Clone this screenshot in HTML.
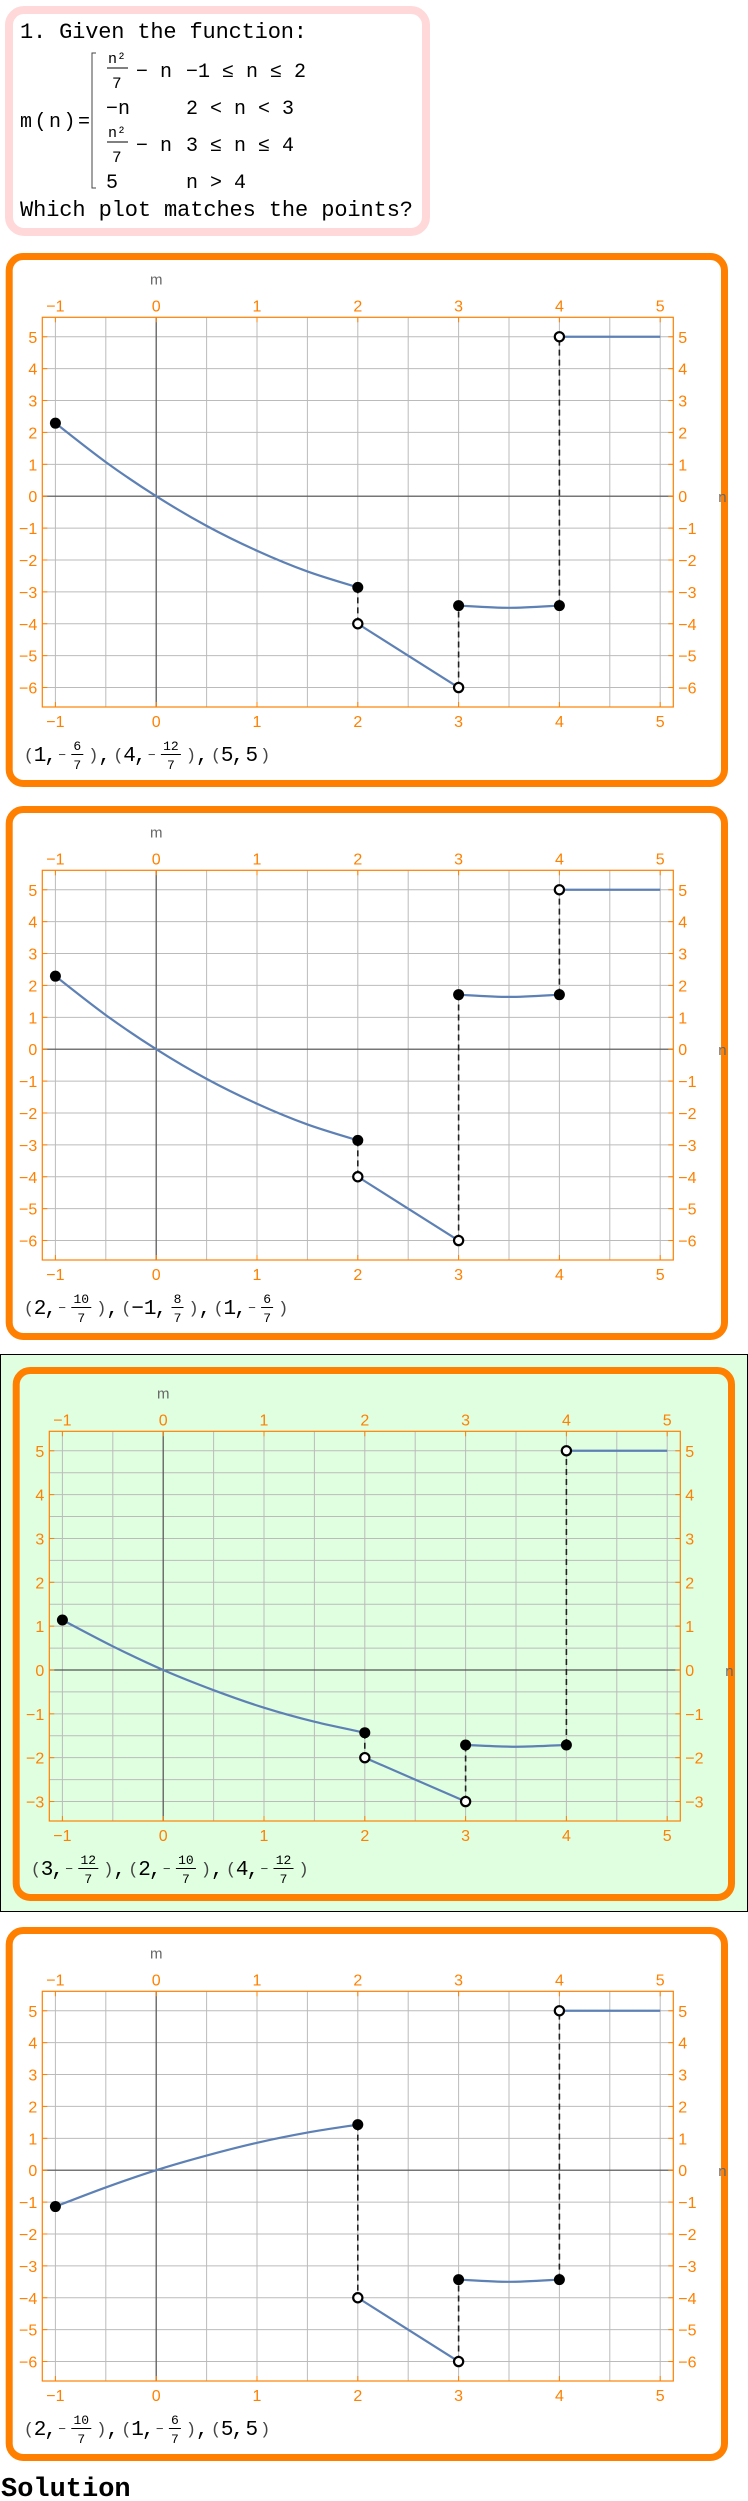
<!DOCTYPE html>
<html><head><meta charset="utf-8">
<style>
html,body{margin:0;padding:0;background:#fff;}
svg{display:block;}
.mono{font-family:"Liberation Mono","DejaVu Sans Mono",monospace;}
.sans{font-family:"Liberation Sans","DejaVu Sans",sans-serif;}
</style></head>
<body>
<svg id="page" width="748" height="2501" viewBox="0 0 748 2501" xmlns="http://www.w3.org/2000/svg">
  <g>
    <rect x="9" y="10" width="417" height="222" rx="15" fill="#fff" stroke="#FFD9D9" stroke-width="8"/>
    <text class="mono" x="20" y="38" font-size="22" textLength="287">1. Given the function:</text>
    <text class="mono" x="20" y="127" font-size="20" textLength="70">m(n)=</text>
    <path d="M96 53 L92 53 L92 188 L96 188" fill="none" stroke="#444" stroke-width="1"/>
    <g class="mono" font-size="20">
      <text x="108" y="63" font-size="15">n²</text><line x1="107" y1="68" x2="128" y2="68" stroke="#000"/><text x="112" y="88" font-size="16">7</text>
      <text x="136" y="77">− n</text><text x="186" y="77">−1 ≤ n ≤ 2</text>
      <text x="106" y="114">−n</text><text x="186" y="114">2 &lt; n &lt; 3</text>
      <text x="108" y="137" font-size="15">n²</text><line x1="107" y1="142" x2="128" y2="142" stroke="#000"/><text x="112" y="162" font-size="16">7</text>
      <text x="136" y="151">− n</text><text x="186" y="151">3 ≤ n ≤ 4</text>
      <text x="106" y="188">5</text><text x="186" y="188">n &gt; 4</text>
    </g>
    <text class="mono" x="20" y="216" font-size="22" textLength="393">Which plot matches the points?</text>
  </g>
  <rect x="0.5" y="1354.5" width="747" height="557" fill="#E0FFE0" stroke="#000" stroke-width="1"/>
  <g id="plots"></g>
  <text class="mono" x="1" y="2496" font-size="27" font-weight="bold">Solution</text>
</svg>
<script>
// ---- data ----
const panelTops = [253, 806, 1367, 1927];
const panelLefts = [5.7, 5.7, 12.7, 5.7];
const yMins = [-6, -6, -3, -6];
const yMaxs = [5, 5, 5, 5];
const xTicks = [-1, 0, 1, 2, 3, 4, 5];
const curveX1 = [-1, -0.5, 0, 0.5, 1, 1.5, 2];
const curveY1 = [
  [2.29, 1.07, 0, -0.93, -1.71, -2.36, -2.86],
  [2.29, 1.07, 0, -0.93, -1.71, -2.36, -2.86],
  [1.14, 0.54, 0, -0.46, -0.86, -1.18, -1.43],
  [-1.14, -0.54, 0, 0.46, 0.86, 1.18, 1.43]
];
const lineX2 = [2, 3];
const lineY2 = [[-4, -6], [-4, -6], [-2, -3], [-4, -6]];
const curveX3 = [3, 3.5, 4];
const curveY3 = [
  [-3.43, -3.5, -3.43],
  [1.71, 1.64, 1.71],
  [-1.71, -1.75, -1.71],
  [-3.43, -3.5, -3.43]
];
const lineX4 = [4, 5];
const lineY4 = [[5, 5], [5, 5], [5, 5], [5, 5]];
const pointLabels = [
  [[1, [-6, 7]], [4, [-12, 7]], [5, 5]],
  [[2, [-10, 7]], [-1, [8, 7]], [1, [-6, 7]]],
  [[3, [-12, 7]], [2, [-10, 7]], [4, [-12, 7]]],
  [[2, [-10, 7]], [1, [-6, 7]], [5, 5]]
];

const NS = 'http://www.w3.org/2000/svg';
const ORANGE = '#FF8000';
function mk(tag, attrs, parent) {
  const e = document.createElementNS(NS, tag);
  for (const k in attrs) e.setAttribute(k, attrs[k]);
  parent.appendChild(e);
  return e;
}
function fmt(v) { return v < 0 ? '\u2212' + Math.abs(v) : String(v); }

const root = document.getElementById('plots');

for (let p = 0; p < 4; p++) {
  const L = panelLefts[p], T = panelTops[p];
  const g = mk('g', {}, root);
  
  
  const bg = p === 2 ? '#E0FFE0' : '#fff';
  const box = mk('rect', {x: L + 3.5, y: T + 3.5, width: 715.3, height: 527, rx: 14, fill: bg, stroke: ORANGE, 'stroke-width': 7}, g);
  
  

  const fx0 = L + 36.6, fx1 = L + 667.6, fy0 = T + 64.3, fy1 = T + 454;
  const xmin = -1.13, xmax = 5.13;
  const pad = (yMaxs[p] - yMins[p]) * 0.0555;
  const ylo = yMins[p] - pad, yhi = yMaxs[p] + pad;
  const X = v => fx0 + (v - xmin) / (xmax - xmin) * (fx1 - fx0);
  const Y = v => fy1 - (v - ylo) / (yhi - ylo) * (fy1 - fy0);

  const grid = mk('g', {stroke: '#BBBBBB', 'stroke-width': 1}, g);
  
  
  for (let v = -1; v <= 5.001; v += 0.5) mk('line', {x1: X(v), x2: X(v), y1: fy0, y2: fy1}, grid);
  const ystep = p === 2 ? 0.5 : 1;
  for (let v = yMins[p]; v <= yMaxs[p] + 0.001; v += ystep) mk('line', {x1: fx0, x2: fx1, y1: Y(v), y2: Y(v)}, grid);
  const ax = mk('g', {stroke: '#555', 'stroke-width': 1.2}, g);
  
  
  mk('line', {x1: X(0), x2: X(0), y1: fy0, y2: fy1}, ax);
  mk('line', {x1: fx0, x2: fx1, y1: Y(0), y2: Y(0)}, ax);

  const fr = mk('rect', {x: fx0, y: fy0, width: fx1 - fx0, height: fy1 - fy0, fill: 'none', stroke: ORANGE, 'stroke-width': 1.2}, g);
  
  

  const tl = mk('g', {class: 'sans', 'font-size': 16, fill: ORANGE}, g);
  
  
  xTicks.forEach(v => {
    mk('line', {x1: X(v), x2: X(v), y1: fy0, y2: fy0 + 5, stroke: ORANGE}, tl);
    mk('line', {x1: X(v), x2: X(v), y1: fy1, y2: fy1 - 5, stroke: ORANGE}, tl);
    const a = mk('text', {x: X(v), y: fy0 - 6, 'text-anchor': 'middle'}, tl); a.textContent = fmt(v);
    const b = mk('text', {x: X(v), y: fy1 + 20, 'text-anchor': 'middle'}, tl); b.textContent = fmt(v);
  });
  for (let v = yMins[p]; v <= yMaxs[p]; v++) {
    mk('line', {x1: fx0, x2: fx0 + 5, y1: Y(v), y2: Y(v), stroke: ORANGE}, tl);
    mk('line', {x1: fx1, x2: fx1 - 5, y1: Y(v), y2: Y(v), stroke: ORANGE}, tl);
    const a = mk('text', {x: fx0 - 5, y: Y(v) + 6, 'text-anchor': 'end'}, tl); a.textContent = fmt(v);
    const b = mk('text', {x: fx1 + 5, y: Y(v) + 6}, tl); b.textContent = fmt(v);
  }
  const mlab = mk('text', {x: X(0), y: fy0 - 33, 'text-anchor': 'middle', class: 'sans', 'font-size': 15, fill: '#666'}, g);
  mlab.textContent = 'm';
  
  
  const nlab = mk('text', {x: fx1 + 45, y: Y(0) + 6, class: 'sans', 'font-size': 15, fill: '#666'}, g);
  nlab.textContent = 'n';
  
  

  const dash = mk('g', {stroke: '#222', 'stroke-width': 1.6, 'stroke-dasharray': '6,4'}, g);
  
  
  const jumps = [
    [curveX1[curveX1.length - 1], curveY1[p][curveY1[p].length - 1], lineY2[p][0]],
    [lineX2[1], lineY2[p][1], curveY3[p][0]],
    [curveX3[curveX3.length - 1], curveY3[p][curveY3[p].length - 1], lineY4[p][0]]
  ];
  jumps.forEach(j => mk('line', {x1: X(j[0]), x2: X(j[0]), y1: Y(j[1]), y2: Y(j[2])}, dash));

  function smoothPath(xs, ys) {
    const P = xs.map((x, i) => [X(x), Y(ys[i])]);
    let d = 'M' + P[0][0] + ' ' + P[0][1];
    for (let i = 0; i < P.length - 1; i++) {
      const p0 = P[Math.max(0, i - 1)], p1 = P[i], p2 = P[i + 1], p3 = P[Math.min(P.length - 1, i + 2)];
      const c1 = [p1[0] + (p2[0] - p0[0]) / 6, p1[1] + (p2[1] - p0[1]) / 6];
      const c2 = [p2[0] - (p3[0] - p1[0]) / 6, p2[1] - (p3[1] - p1[1]) / 6];
      d += ' C' + c1[0] + ' ' + c1[1] + ' ' + c2[0] + ' ' + c2[1] + ' ' + p2[0] + ' ' + p2[1];
    }
    return d;
  }
  const cs = mk('g', {fill: 'none', stroke: '#5E81B5', 'stroke-width': 2.2}, g);
  
  
  const s1 = mk('path', {d: smoothPath(curveX1, curveY1[p])}, cs);
  
  
  const s2 = mk('path', {d: smoothPath(lineX2, lineY2[p])}, cs);
  
  
  const s3 = mk('path', {d: smoothPath(curveX3, curveY3[p])}, cs);
  
  
  const s4 = mk('path', {d: smoothPath(lineX4, lineY4[p])}, cs);
  
  

  const filled = [
    [curveX1[0], curveY1[p][0]],
    [curveX1[curveX1.length - 1], curveY1[p][curveY1[p].length - 1]],
    [curveX3[0], curveY3[p][0]],
    [curveX3[curveX3.length - 1], curveY3[p][curveY3[p].length - 1]]
  ];
  const open = [[lineX2[0], lineY2[p][0]], [lineX2[1], lineY2[p][1]], [lineX4[0], lineY4[p][0]]];
  filled.forEach(q => {
    const c = mk('circle', {cx: X(q[0]), cy: Y(q[1]), r: 5.5, fill: '#000'}, g);
    
    
  });
  open.forEach(q => {
    const c = mk('circle', {cx: X(q[0]), cy: Y(q[1]), r: 4.6, fill: '#fff', stroke: '#000', 'stroke-width': 2.2}, g);
    
    
  });

  const lab = mk('g', {class: 'mono', fill: '#000'}, g);
  
  
  let cx = L + 18;
  const by = T + 507;
  function txt(s, size, x, y, color, anchor) {
    const t = mk('text', {x: x, y: y, 'font-size': size, fill: color || '#000'}, lab);
    if (anchor) t.setAttribute('text-anchor', anchor);
    t.textContent = s;
    return t;
  }
  function token(v) {
    if (Array.isArray(v)) {
      const num = v[0], den = v[1];
      if (num < 0) { txt('\u2212', 13, cx, by - 1, '#333'); cx += 12; } else { cx += 2; }
      const ns = String(Math.abs(num));
      const w = ns.length * 8 + 6;
      txt(ns, 13, cx + w / 2, by - 10, '#000', 'middle');
      mk('line', {x1: cx + 1, x2: cx + w - 1, y1: by - 5.5, y2: by - 5.5, stroke: '#000', 'stroke-width': 1}, lab);
      txt(String(den), 13, cx + w / 2, by + 9, '#000', 'middle');
      cx += w + 2;
    } else {
      const s = v < 0 ? '\u2212' + Math.abs(v) : String(v);
      txt(s, 21, cx, by + 1); cx += s.length * 12.6;
    }
  }
  pointLabels[p].forEach((pair, i) => {
    txt('(', 17, cx, by, '#444'); cx += 10;
    token(pair[0]);
    txt(',', 21, cx - 2, by + 1); cx += 12;
    token(pair[1]);
    txt(')', 17, cx + 2, by, '#444'); cx += 12;
    if (i < 2) { txt(',', 21, cx, by + 1); cx += 15; }
  });
}
</script>
</body></html>
